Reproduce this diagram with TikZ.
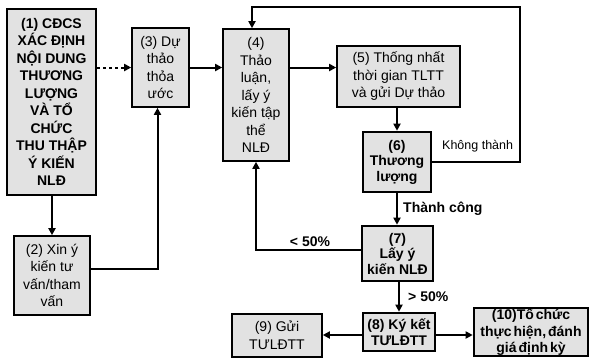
\documentclass[tikz,border=0pt]{standalone}
\usepackage{fontspec}
\setmainfont{Liberation Sans}
\usetikzlibrary{arrows.meta}
\definecolor{boxfill}{HTML}{E2E2E2}
\newcommand\mytightsp{\spaceskip=0.14em\relax}
\tikzset{
  box/.style={draw, fill=boxfill, line width=1.6pt, align=center, inner sep=0pt,
    font=\fontsize{14}{17.5}\selectfont},
  boldbox/.style={box, line width=2.6pt, font=\fontsize{14}{17.5}\selectfont\bfseries},
  tightbox/.style={boldbox, font=\fontsize{14}{15.5}\selectfont\bfseries},
  conn/.style={line width=2pt, -{Triangle[length=7pt,width=7pt]}},
  dotconn/.style={conn, dash pattern=on 3pt off 3pt},
  lbl/.style={font=\fontsize{14}{16}\selectfont\bfseries, inner sep=1pt},
  lblreg/.style={font=\fontsize{12.5}{15}\selectfont, inner sep=1pt}
}
\begin{document}
\begin{tikzpicture}[x=1pt,y=-1pt]
\useasboundingbox (0,0) rectangle (592,360);

\node[boldbox, minimum width=89pt, minimum height=186pt] (b1) at (51.5,102)
  {(1) CĐCS\\XÁC ĐỊNH\\NỘI DUNG\\THƯƠNG\\LƯỢNG\\VÀ TỔ\\CHỨC\\THU THẬP\\Ý KIẾN\\NLĐ};
\node[box, minimum width=76pt, minimum height=79pt] (b2) at (52,275.5)
  {(2) Xin ý\\kiến tư\\vấn/tham\\vấn};
\node[box, minimum width=57pt, minimum height=79pt] (b3) at (160.5,67.5)
  {(3) Dự\\thảo\\thỏa\\ước};
\node[box, minimum width=66pt, minimum height=132pt] (b4) at (256,95)
  {(4)\\Thảo\\luận,\\lấy ý\\kiến tập\\thể\\NLĐ};
\node[box, minimum width=123pt, minimum height=61pt] (b5) at (398.5,76.5)
  {(5) Thống nhất\\thời gian TLTT\\và gửi Dự thảo};
\node[tightbox, minimum width=68pt, minimum height=60pt] (b6) at (397,162)
  {(6)\\Thương\\lượng};
\node[tightbox, minimum width=71pt, minimum height=55pt] (b7) at (397.5,253.5)
  {(7)\\Lấy ý\\kiến NLĐ};
\node[tightbox, minimum width=72pt, minimum height=38pt] (b8) at (399,332)
  {(8) Ký kết\\TƯLĐTT};
\node[box, minimum width=90pt, minimum height=43pt] (b9) at (277,335.5)
  {(9) Gửi\\TƯLĐTT};
\node[boldbox, minimum width=114pt, minimum height=48pt,
  font=\fontsize{14}{16.5}\selectfont\bfseries\mytightsp] (b10) at (531,332)
  {(10)Tổ chức\\thực hiện, đánh\\giá định kỳ};

\coordinate (loopR) at (520,7);
\coordinate (b2e) at ([yshift=7pt]b2.east);
\coordinate (b3s) at ([xshift=-3pt]b3.south);
\coordinate (b4n) at ([xshift=-4pt]b4.north);
\coordinate (b7w) at ([yshift=4pt]b7.west);
\coordinate (b8w) at ([yshift=-3pt]b8.west);
\coordinate (b8e) at ([yshift=-3pt]b8.east);

\draw[dotconn] (b1.east |- b3.west) -- (b3.west);
\draw[conn] (b3.east) -- (b4.west |- b3.east);
\draw[conn] (b4.east |- b3.east) -- (b5.west |- b3.east);
\draw[conn] (b1.south -| b2.north) -- (b2.north);
\draw[conn] (b2e) -| (b3s);
\draw[conn] (b5.south -| b6.north) -- (b6.north);
\draw[conn] (b6.east) -| (loopR) -| (b4n);
\node[lblreg, anchor=south west] (lk) at (441,153) {Không thành};
\draw[conn] (b6.south) -- (b6.south |- b7.north);
\node[lbl, anchor=west] (lt) at (402,209) {Thành công};
\draw[conn] (b7w) -| (b4.south);
\node[lbl, anchor=south] (l50a) at (310,248) {< 50\%};
\draw[conn] (b7.south -| b8.north) -- (b8.north);
\node[lbl, anchor=west] (l50b) at (407,297) {> 50\%};
\draw[conn] (b8w) -- (b8w -| b9.east);
\draw[conn] (b8e) -- (b8e -| b10.west);
\end{tikzpicture}
\end{document}
